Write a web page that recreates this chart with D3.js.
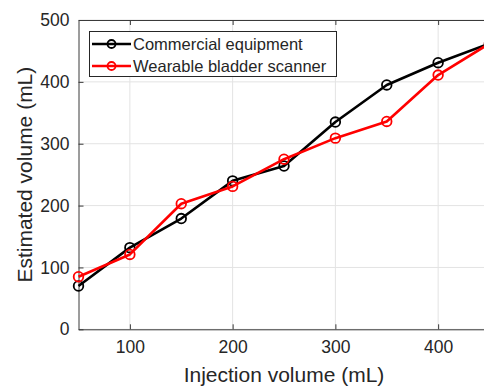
<!DOCTYPE html>
<html>
<head>
<meta charset="utf-8">
<script src="https://cdn.jsdelivr.net/npm/d3@7"></script>
<style>
  html, body { margin: 0; padding: 0; background: #fff; }
  svg { display: block; font-family: "Liberation Sans", Arial, sans-serif; }
</style>
</head>
<body>
<div id="chart"></div>
<script>
// injection volumes (mL)
var injection = [50, 100, 150, 200, 250, 300, 350, 400, 450];
// estimated volumes (mL)
var commercial = [70, 132, 179, 240, 264, 335, 395, 431, 462];
var wearable = [85, 121, 203, 231, 275, 309, 336, 411, 462];
var xTicks = [100, 200, 300, 400];
var yTicks = [0, 100, 200, 300, 400, 500];
var seriesNames = ["Commercial equipment", "Wearable bladder scanner"];

(function () {
    "use strict";

    var width = 484, height = 388,
        left = 78.5, right = 489.5, top = 20, bottom = 329.3;

    var svg = d3.select("#chart").append("svg")
        .attr("width", width)
        .attr("height", height);

    var x = d3.scaleLinear().domain([50, 450]).range([left, right]);
    var y = d3.scaleLinear().domain([0, 500]).range([bottom, top]);

    // grid
    svg.append("g").selectAll("line.gx")
        .data(xTicks).enter().append("line")
        .attr("x1", d => x(d)).attr("x2", d => x(d))
        .attr("y1", top).attr("y2", bottom)
        .attr("stroke", "#e3e3e3").attr("stroke-width", 1);
    svg.append("g").selectAll("line.gy")
        .data(yTicks).enter().append("line")
        .attr("y1", d => y(d)).attr("y2", d => y(d))
        .attr("x1", left).attr("x2", right)
        .attr("stroke", "#e3e3e3").attr("stroke-width", 1);

    // axes (MATLAB style: ticks inward, box on)
    var axColor = "#3a3a3a";
    svg.append("g")
        .attr("transform", "translate(0," + bottom + ")")
        .call(d3.axisBottom(x).tickValues(xTicks).tickSizeInner(-5).tickSizeOuter(0).tickPadding(11));
    svg.append("g")
        .attr("transform", "translate(" + left + ",0)")
        .call(d3.axisLeft(y).tickValues(yTicks).tickSizeInner(-5).tickSizeOuter(0).tickPadding(9));
    svg.append("g")
        .attr("transform", "translate(0," + top + ")")
        .call(d3.axisTop(x).tickValues(xTicks).tickSizeInner(-5).tickSizeOuter(0).tickFormat(""));

    svg.selectAll(".domain, .tick line").attr("stroke", axColor);
    svg.selectAll(".tick text")
        .attr("fill", "#262626")
        .style("font-size", "17.5px")
        .style("font-family", "Liberation Sans, Arial, sans-serif");

    // series
    var line = d3.line()
        .x((d, i) => x(injection[i]))
        .y(d => y(d));

    var series = [
        {name: seriesNames[0], values: commercial, color: "#000000"},
        {name: seriesNames[1], values: wearable, color: "#ff0000"}
    ];

    series.forEach(function (s) {
        var g = svg.append("g");
        g.append("path")
            .attr("d", line(s.values))
            .attr("fill", "none")
            .attr("stroke", s.color)
            .attr("stroke-width", 2.6)
            .attr("stroke-linejoin", "round");
        g.selectAll("circle")
            .data(s.values).enter().append("circle")
            .attr("cx", (d, i) => x(injection[i]))
            .attr("cy", d => y(d))
            .attr("r", 4.8)
            .attr("fill", "none")
            .attr("stroke", s.color)
            .attr("stroke-width", 1.8);
    });

    // legend
    var lg = svg.append("g");
    lg.append("rect")
        .attr("x", 89.5).attr("y", 31.5)
        .attr("width", 247).attr("height", 45)
        .attr("fill", "#fff")
        .attr("stroke", "#262626")
        .attr("stroke-width", 1);
    series.forEach(function (s, i) {
        var ly = 44 + i * 22;
        lg.append("line")
            .attr("x1", 92).attr("x2", 131)
            .attr("y1", ly).attr("y2", ly)
            .attr("stroke", s.color).attr("stroke-width", 2.6);
        lg.append("circle")
            .attr("cx", 111.5).attr("cy", ly).attr("r", 4)
            .attr("fill", "none").attr("stroke", s.color).attr("stroke-width", 1.8);
        lg.append("text")
            .attr("x", 133).attr("y", ly + 6)
            .attr("fill", "#262626")
            .style("font-size", "16.5px")
            .text(s.name);
    });

    // axis titles
    svg.append("text")
        .attr("x", (left + right) / 2).attr("y", 382)
        .attr("text-anchor", "middle")
        .attr("fill", "#262626")
        .style("font-size", "21px")
        .text("Injection volume (mL)");
    svg.append("text")
        .attr("transform", "translate(32," + (top + bottom) / 2 + ") rotate(-90)")
        .attr("text-anchor", "middle")
        .attr("fill", "#262626")
        .style("font-size", "21px")
        .text("Estimated volume (mL)");
})();
</script>
</body>
</html>
